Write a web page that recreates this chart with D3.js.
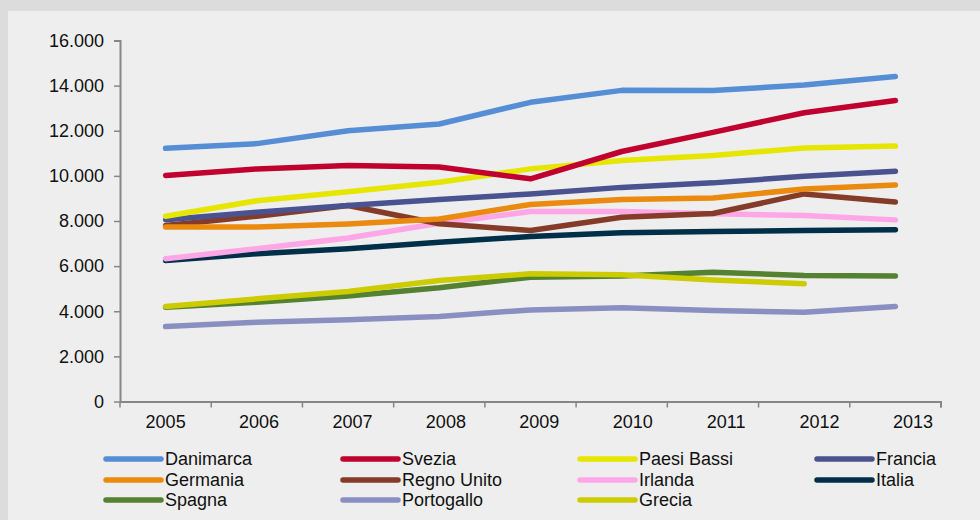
<!DOCTYPE html>
<html>
<head>
<meta charset="utf-8">
<script src="https://cdn.jsdelivr.net/npm/d3@7"></script>
<style>
  body { margin: 0; background: #dcdcdc; }
  svg { display: block; font-family: "Liberation Sans", Arial, sans-serif; }
</style>
</head>
<body>
<div id="chart"></div>
<script>
var svgWidth = 980;
var svgHeight = 520;

var margin = { top: 40.5, right: 39, bottom: 118.5, left: 120 };
var width = svgWidth - margin.left - margin.right;
var height = svgHeight - margin.top - margin.bottom;

// data
var years = ["2005", "2006", "2007", "2008", "2009", "2010", "2011", "2012", "2013"];
var yTicks = [0, 2000, 4000, 6000, 8000, 10000, 12000, 14000, 16000];

var countries = ["Danimarca", "Svezia", "Paesi Bassi", "Francia", "Germania", "Regno Unito",
                 "Irlanda", "Italia", "Spagna", "Portogallo", "Grecia"];
var colors = ["#558ed5", "#c0002e", "#e6e600", "#4a5290", "#ea8a0e", "#843c28",
              "#ffa6e6", "#003049", "#548230", "#8a8fc2", "#cccc00"];

var danimarca  = [11220, 11430, 12000, 12300, 13260, 13790, 13780, 14030, 14400];
var svezia     = [10020, 10310, 10460, 10390, 9870, 11080, 11930, 12800, 13340];
var paesiBassi = [8210, 8900, 9300, 9720, 10310, 10680, 10900, 11240, 11320];
var francia    = [8060, 8390, 8690, 8950, 9200, 9490, 9690, 9980, 10210];
var germania   = [7730, 7730, 7870, 8090, 8730, 8950, 9020, 9420, 9600];
var regnoUnito = [7800, 8210, 8690, 7880, 7580, 8170, 8330, 9200, 8840];
var irlanda    = [6330, 6770, 7250, 7900, 8420, 8420, 8320, 8240, 8050];
var italia     = [6250, 6550, 6770, 7060, 7310, 7480, 7530, 7580, 7610];
var spagna     = [4180, 4400, 4680, 5040, 5510, 5560, 5730, 5580, 5560];
var portogallo = [3320, 3510, 3620, 3770, 4060, 4150, 4030, 3960, 4210];
var grecia     = [4210, 4550, 4880, 5360, 5660, 5620, 5390, 5220, null];

var series = [danimarca, svezia, paesiBassi, francia, germania, regnoUnito,
              irlanda, italia, spagna, portogallo, grecia];

var svg = d3.select("#chart")
  .append("svg")
  .attr("width", svgWidth)
  .attr("height", svgHeight);

// panel background
svg.append("rect")
  .attr("x", 0).attr("y", 0)
  .attr("width", svgWidth).attr("height", svgHeight)
  .attr("fill", "#dcdcdc");
svg.append("rect")
  .attr("x", 8).attr("y", 11)
  .attr("width", svgWidth - 8).attr("height", svgHeight - 11)
  .attr("fill", "#eeeeee");

var chartGroup = svg.append("g")
  .attr("transform", `translate(${margin.left}, ${margin.top})`);

var xScale = d3.scaleBand()
  .domain(years)
  .range([0, width]);

var yScale = d3.scaleLinear()
  .domain([0, 16000])
  .range([height, 0]);

var fmt = d3.format(",");
var tickFormat = d => fmt(d).replace(/,/g, ".");

// y axis
var yAxis = chartGroup.append("g")
  .call(d3.axisLeft(yScale).tickValues(yTicks).tickFormat(tickFormat).tickSize(6).tickPadding(10));

// x axis: ticks at band edges
var xAxis = chartGroup.append("g")
  .attr("transform", `translate(0, ${height})`)
  .call(d3.axisBottom(xScale).tickSize(0).tickPadding(14));

xAxis.selectAll(".edge")
  .data(d3.range(years.length + 1))
  .enter()
  .append("line")
  .attr("x1", i => i * xScale.step())
  .attr("x2", i => i * xScale.step())
  .attr("y1", 0)
  .attr("y2", 6);

// the labels in the picture sit a little wider apart than the bands
xAxis.selectAll(".tick text")
  .attr("dx", (d, i) => i * 2.2);

[yAxis, xAxis].forEach(function(ax) {
  ax.select(".domain").attr("stroke", "#868686").attr("stroke-width", 2);
  ax.selectAll("line").attr("stroke", "#868686").attr("stroke-width", 1.5);
  ax.selectAll("text")
    .attr("fill", "#111")
    .style("font-size", "18px");
});
yAxis.select(".domain").attr("d", `M-6,0.5H0.5V${height}`);
xAxis.select(".domain").attr("d", `M0,0.5H${width}V6`);

// lines
var line = d3.line()
  .defined(d => d != null)
  .x((d, i) => xScale(years[i]) + xScale.bandwidth() / 2)
  .y(d => yScale(d));

var linesGroup = chartGroup.append("g");
// draw bottom series first like the reference layering
var order = [9, 8, 10, 7, 6, 5, 4, 3, 2, 1, 0];
order.forEach(function(k) {
  linesGroup.append("path")
    .datum(series[k])
    .attr("d", line)
    .attr("fill", "none")
    .attr("stroke", colors[k])
    .attr("stroke-width", 5.5)
    .attr("stroke-linecap", "round")
    .attr("stroke-linejoin", "round");
});

// legend
var legend = svg.append("g");
var colX = [106, 343, 580, 817];
var rowY = [459, 480, 500];

countries.forEach(function(name, i) {
  var cx = colX[i % 4];
  var cy = rowY[Math.floor(i / 4)];
  legend.append("line")
    .attr("x1", cx).attr("x2", cx + 55)
    .attr("y1", cy).attr("y2", cy)
    .attr("stroke", colors[i])
    .attr("stroke-width", 5.5)
    .attr("stroke-linecap", "round");
  legend.append("text")
    .attr("x", cx + 59)
    .attr("y", cy)
    .attr("dy", "0.35em")
    .attr("fill", "#111")
    .style("font-size", "18px")
    .text(name);
});
</script>
</body>
</html>
